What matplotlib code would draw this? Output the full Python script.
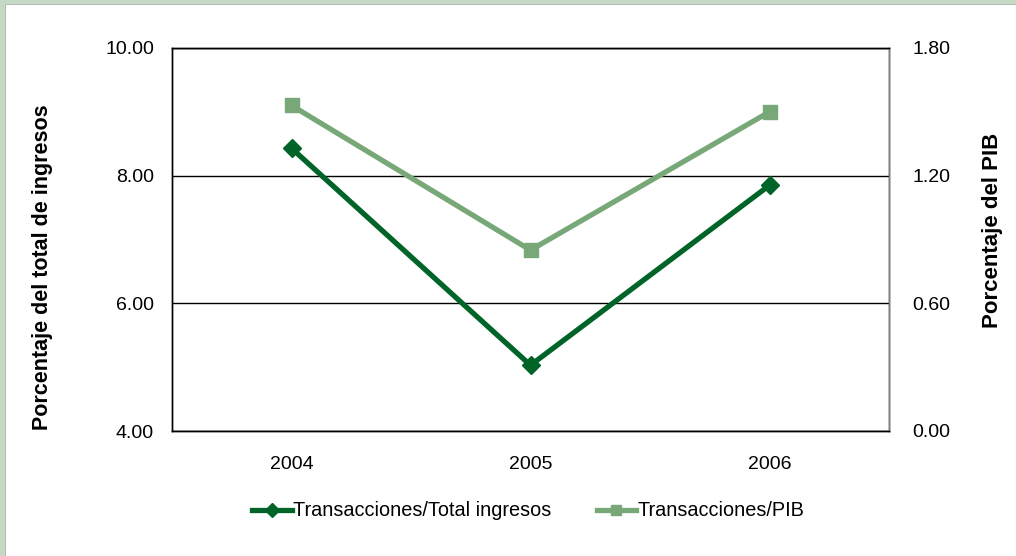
import matplotlib
matplotlib.use("Agg")
import matplotlib.pyplot as plt
from matplotlib.patches import Rectangle

plt.rcParams['font.family'] = ['Liberation Sans', 'DejaVu Sans']

years = ['2004', '2005', '2006']
total_ingresos = [8.43, 5.03, 7.85]
pib = [1.53, 0.85, 1.50]

left_ticks = [4.0, 6.0, 8.0, 10.0]
right_ticks = [0.0, 0.6, 1.2, 1.8]

dark = '#006428'
light = '#78a878'
W, H = 1016, 556

fig = plt.figure(figsize=(W/100, H/100), dpi=100)
fig.patch.set_facecolor('white')
# border on top and left (green band + thin gray inner line)
fig.add_artist(Rectangle((0, 1-4/H), 1, 4/H, transform=fig.transFigure,
                         facecolor='#c5d9c5', edgecolor='none', zorder=10))
fig.add_artist(Rectangle((5/W, 1-5/H), 1, 1/H, transform=fig.transFigure,
                         facecolor='#b8b8b8', edgecolor='none', zorder=10))
fig.add_artist(Rectangle((0, 0), 5/W, 1, transform=fig.transFigure,
                         facecolor='#c5d9c5', edgecolor='none', zorder=10))
fig.add_artist(Rectangle((5/W, 0), 1.2/W, 1-4/H, transform=fig.transFigure,
                         facecolor='#b8b8b8', edgecolor='none', zorder=10))

ax = fig.add_axes([172/W, 1-431/H, (889-172)/W, (431-48)/H])
ax2 = ax.twinx()

x = list(range(len(years)))
l1, = ax.plot(x, total_ingresos, color=dark, lw=3.8, marker='D', markersize=9,
              label='Transacciones/Total ingresos', zorder=3)
l2, = ax2.plot(x, pib, color=light, lw=3.8, marker='s', markersize=10.5,
               label='Transacciones/PIB', zorder=3)

ax.set_xlim(-0.5, 2.5)
ax.set_ylim(4, 10)
ax2.set_ylim(0, 1.8)
ax.set_xticks(x)
ax.set_xticklabels(years)
ax.set_yticks(left_ticks)
ax.set_yticklabels([f'{v:.2f}' for v in left_ticks])
ax2.set_yticks(right_ticks)
ax2.set_yticklabels([f'{v:.2f}' for v in right_ticks])

ax.yaxis.grid(True, color='black', lw=1)
ax.set_axisbelow(True)
for a in (ax, ax2):
    a.tick_params(length=0, labelsize=14)
    for s in a.spines.values():
        s.set_color('black')
        s.set_linewidth(1)
ax2.spines['right'].set_color('#808080')
ax.tick_params(axis='y', pad=13)
ax2.tick_params(axis='y', pad=17)
ax.tick_params(axis='x', pad=18)

ax.set_ylabel('Porcentaje del total de ingresos', fontsize=15.5, fontweight='bold')
ax.yaxis.set_label_coords((53-172)/717, (431-267)/383)
ax2.set_ylabel('Porcentaje del PIB', fontsize=16, fontweight='bold', rotation=90)
ax2.yaxis.set_label_coords((982-172)/717, (431-230)/383)

fig.legend(handles=[l1, l2], loc='center', bbox_to_anchor=(528/W, 1-511/H),
           ncol=2, frameon=False, fontsize=14.3, handlelength=2.0, handletextpad=0.05,
           columnspacing=2.3, markerscale=0.75)

fig.savefig('out.png', dpi=100)
